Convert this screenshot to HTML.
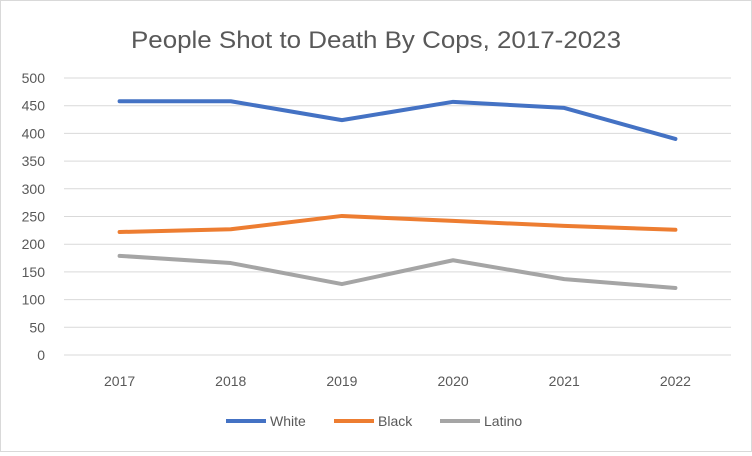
<!DOCTYPE html>
<html><head><meta charset="utf-8"><style>
body{margin:0;background:#fff}
#c{position:relative;width:752px;height:452px;border:1px solid #d9d9d9;box-sizing:border-box;font-family:"Liberation Sans",sans-serif}
</style></head><body>
<div id="c">
<svg id="s" width="750" height="450"></svg>
</div>
<script>
const categories=["2017","2018","2019","2020","2021","2022"];
const whiteVals=[458,458,424,457,446,390];
const blackVals=[222,227,251,242,233,226];
const latinoVals=[179,166,128,171,137,121];
const yTicks=[0,50,100,150,200,250,300,350,400,450,500];
const seriesNames=["White","Black","Latino"];
const colors=["#4472c4","#ed7d31","#a5a5a5"];
const NS="http://www.w3.org/2000/svg";
const s=document.getElementById('s');
const x0=63,x1=730,yb=354,yt=77;
const xs=i=>x0+(x1-x0)/categories.length*(i+0.5);
const ys=v=>yb-(v/500)*(yb-yt);
function mk(t,a,txt){const e=document.createElementNS(NS,t);for(const k in a)e.setAttribute(k,a[k]);if(txt!==undefined)e.textContent=txt;s.appendChild(e);return e;}
let t=mk('text',{x:130,y:47,'font-size':24,fill:'#595959',textLength:490,lengthAdjust:'spacingAndGlyphs'},'People Shot to Death By Cops, 2017-2023');


yTicks.forEach(v=>{
 const l=mk('line',{x1:x0,x2:x1,y1:ys(v),y2:ys(v),stroke:'#d9d9d9','stroke-width':1});
 
 
 const tx=mk('text',{x:44,y:ys(v)+5,'text-anchor':'end','font-size':14,fill:'#595959'},v);
 
 
});
categories.forEach((c,i)=>{
 const tx=mk('text',{x:xs(i),y:385,'text-anchor':'middle','font-size':14,fill:'#595959'},c);
 
 
});
[whiteVals,blackVals,latinoVals].forEach((vals,k)=>{
 const p=mk('polyline',{points:vals.map((v,i)=>xs(i)+','+ys(v)).join(' '),fill:'none',stroke:colors[k],'stroke-width':4,'stroke-linejoin':'round','stroke-linecap':'round'});
 
 
});
const lx=[225,333,439];
seriesNames.forEach((n,k)=>{
 const g=mk('g',{});
 
 
 const l=document.createElementNS(NS,'line');
 [['x1',lx[k]],['x2',lx[k]+40],['y1',420],['y2',420],['stroke',colors[k]],['stroke-width',4]].forEach(a=>l.setAttribute(a[0],a[1]));
 g.appendChild(l);
 const tx=document.createElementNS(NS,'text');
 [['x',lx[k]+44],['y',425],['font-size',14],['fill','#595959']].forEach(a=>tx.setAttribute(a[0],a[1]));
 tx.textContent=n;g.appendChild(tx);
});
</script>
</body></html>
